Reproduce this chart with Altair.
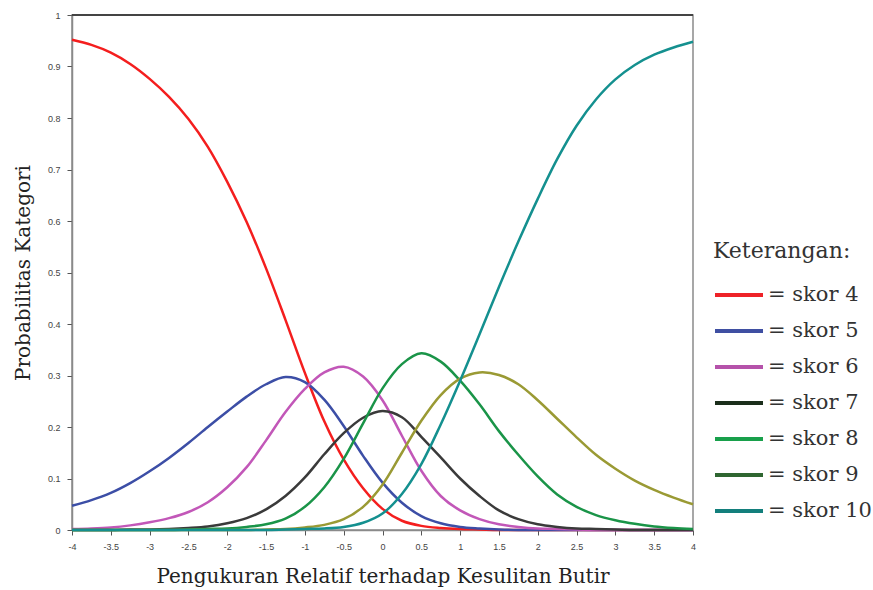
import altair as alt
import pandas as pd

# theta grid (logits)
theta = [-4, -3.75, -3.5, -3.25, -3, -2.75, -2.5, -2.25, -2, -1.75, -1.5, -1.25,
         -1, -0.75, -0.5, -0.25, 0, 0.25, 0.5, 0.75, 1, 1.25, 1.5, 1.75, 2,
         2.25, 2.5, 2.75, 3, 3.25, 3.5, 3.75, 4]

skor4 = [0.952, 0.942, 0.927, 0.905, 0.876, 0.841, 0.798, 0.744, 0.676, 0.598, 0.508, 0.408,
         0.305, 0.211, 0.137, 0.081, 0.041, 0.018, 0.008, 0.004, 0.002, 0.001, 0, 0, 0,
         0, 0, 0, 0, 0, 0, 0, 0]
skor5 = [0.047, 0.058, 0.072, 0.091, 0.114, 0.140, 0.169, 0.200, 0.230, 0.259, 0.283, 0.297,
         0.287, 0.253, 0.202, 0.144, 0.092, 0.053, 0.027, 0.013, 0.006, 0.003, 0.001, 0, 0,
         0, 0, 0, 0, 0, 0, 0, 0]
skor6 = [0.002, 0.003, 0.005, 0.009, 0.015, 0.023, 0.035, 0.054, 0.083, 0.122, 0.174, 0.229,
         0.274, 0.306, 0.317, 0.298, 0.252, 0.183, 0.115, 0.066, 0.038, 0.021, 0.011, 0.006, 0.003,
         0.002, 0.001, 0, 0, 0, 0, 0, 0]
skor7 = [0, 0, 0, 0.001, 0.001, 0.002, 0.004, 0.007, 0.013, 0.023, 0.040, 0.066,
         0.102, 0.147, 0.188, 0.218, 0.231, 0.219, 0.181, 0.141, 0.100, 0.066, 0.038, 0.021, 0.011,
         0.006, 0.003, 0.002, 0.001, 0, 0, 0, 0]
skor8 = [0, 0, 0, 0, 0, 0, 0.001, 0.002, 0.003, 0.006, 0.011, 0.022,
         0.045, 0.083, 0.138, 0.207, 0.275, 0.322, 0.343, 0.327, 0.290, 0.244, 0.192, 0.146, 0.104,
         0.069, 0.045, 0.029, 0.019, 0.012, 0.007, 0.004, 0.002]
skor9 = [0, 0, 0, 0, 0, 0, 0, 0, 0, 0, 0.001, 0.002,
         0.005, 0.010, 0.021, 0.045, 0.088, 0.150, 0.212, 0.262, 0.294, 0.306, 0.301, 0.283, 0.252,
         0.216, 0.180, 0.146, 0.119, 0.096, 0.078, 0.063, 0.050]
skor10 = [0, 0, 0, 0, 0, 0, 0, 0, 0, 0, 0, 0.001,
          0.002, 0.003, 0.006, 0.014, 0.032, 0.070, 0.128, 0.205, 0.290, 0.380, 0.472, 0.560, 0.643,
          0.720, 0.785, 0.836, 0.875, 0.903, 0.923, 0.937, 0.948]

names = ["skor 4", "skor 5", "skor 6", "skor 7", "skor 8", "skor 9", "skor 10"]
series = [skor4, skor5, skor6, skor7, skor8, skor9, skor10]
curve_colors = ["#F41E1E", "#3C4EA6", "#C257B8", "#3A3A3A", "#1A9448", "#9A9A34", "#14908F"]
legend_colors = ["#EE2228", "#3F4FA2", "#B552AA", "#1B2E1B", "#18A04B", "#2F6631", "#137F7C"]

x_ticks = [-4, -3.5, -3, -2.5, -2, -1.5, -1, -0.5, 0, 0.5, 1, 1.5, 2, 2.5, 3, 3.5, 4]
y_ticks = [0, 0.1, 0.2, 0.3, 0.4, 0.5, 0.6, 0.7, 0.8, 0.9, 1]

rows = []
for name, vals in zip(names, series):
    for t, v in zip(theta, vals):
        rows.append({"theta": t, "p": v, "series": name})
df = pd.DataFrame(rows)

x_axis = alt.Axis(values=x_ticks, labelExpr="'' + datum.value", labelOverlap=False,
                  labelFlush=False, title="Pengukuran Relatif terhadap Kesulitan Butir",
                  titlePadding=15)
y_axis = alt.Axis(values=y_ticks, labelExpr="'' + datum.value", labelOverlap=False,
                  labelFlush=False, title="Probabilitas Kategori", titlePadding=14)

x_enc = alt.X("theta:Q", scale=alt.Scale(domain=[-4, 4], nice=False), axis=x_axis)
y_enc = alt.Y("p:Q", scale=alt.Scale(domain=[0, 1], nice=False), axis=y_axis)

curves = alt.Chart(df).mark_line(strokeWidth=2.5, interpolate="catmull-rom").encode(
    x=x_enc,
    y=y_enc,
    color=alt.Color("series:N", scale=alt.Scale(domain=names, range=curve_colors), legend=None),
    detail="series:N",
)

legend_layer = alt.Chart(df).mark_line(strokeWidth=4).encode(
    x=x_enc,
    y=y_enc,
    stroke=alt.Stroke(
        "series:N",
        scale=alt.Scale(domain=names, range=legend_colors),
        legend=alt.Legend(
            orient="none", legendX=641, legendY=226,
            title="Keterangan:", titleFont="DejaVu Serif", titleFontSize=22,
            titleFontWeight="normal", titleColor="#333333", titlePadding=6,
            labelFont="DejaVu Serif", labelFontSize=21, labelColor="#333333",
            labelExpr="'= ' + datum.label", labelOffset=3,
            symbolType="stroke", symbolStrokeWidth=4, symbolSize=2304,
            rowPadding=0,
        ),
    ),
).transform_filter("false")

top_rule = alt.Chart(pd.DataFrame({"top": [1]})).mark_rule(color="#444444", strokeWidth=2).encode(
    y=alt.Y("top:Q", scale=alt.Scale(domain=[0, 1], nice=False), axis=y_axis)
)

chart = alt.layer(legend_layer, curves, top_rule).properties(
    width=621, height=515,
    background="white",
    autosize=alt.AutoSizeParams(type="none"),
    padding={"left": 72, "top": 15, "right": 180, "bottom": 60},
).configure_view(
    stroke="#8a8a8a", strokeWidth=1.5
).configure_axis(
    grid=False, domainColor="#8a8a8a", domainWidth=1.5, tickColor="#555555", tickSize=5,
    labelFont="Liberation Sans", labelFontSize=9, labelColor="#444444", labelPadding=7,
    labelOverlap=False,
    titleFont="DejaVu Serif", titleFontSize=20, titleFontWeight="normal", titleColor="#222222",
)

chart.save("out.html", embed_options={"renderer": "svg", "actions": False})
